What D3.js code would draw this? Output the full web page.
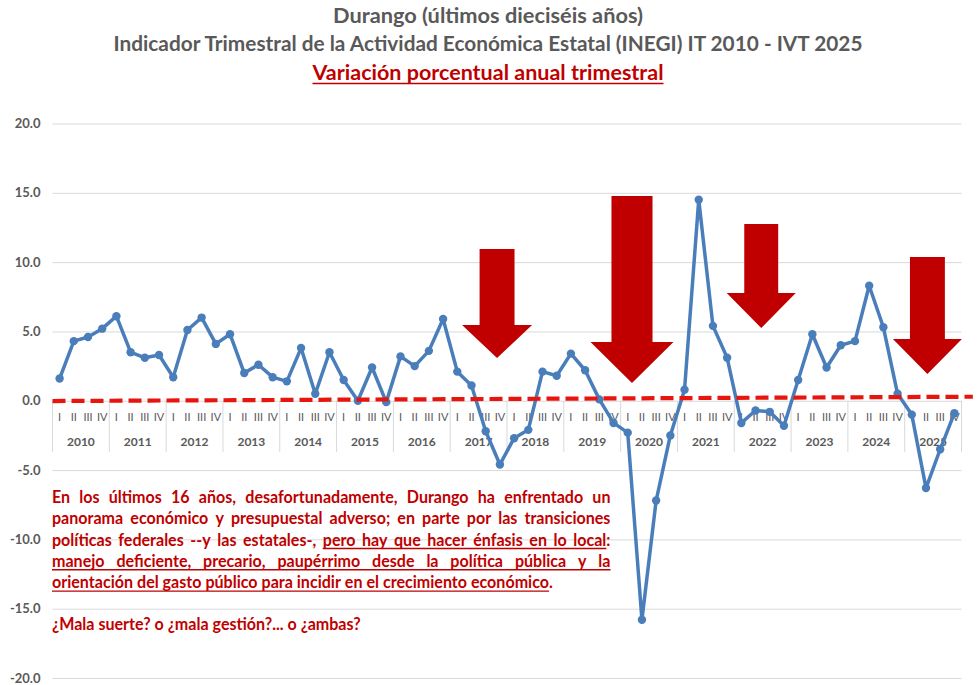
<!DOCTYPE html>
<html><head><meta charset="utf-8">
<script src="https://cdn.jsdelivr.net/npm/d3@7/dist/d3.min.js"></script>
<style>body{margin:0;background:#fff;} svg{display:block;}</style>
</head><body>
<svg id="chart" width="979" height="685"></svg>
<script>
// ---------------- data ----------------
const years = [2010,2011,2012,2013,2014,2015,2016,2017,2018,2019,2020,2021,2022,2023,2024,2025];
const quarters = ["I","II","III","IV"];
const values = [
  1.6, 4.3, 4.6, 5.2,    // 2010
  6.1, 3.5, 3.1, 3.3,    // 2011
  1.7, 5.1, 6.0, 4.1,    // 2012
  4.8, 2.0, 2.6, 1.7,    // 2013
  1.4, 3.8, 0.5, 3.5,    // 2014
  1.5, 0.0, 2.4, -0.1,   // 2015
  3.2, 2.5, 3.6, 5.9,    // 2016
  2.1, 1.1, -2.2, -4.6,  // 2017
  -2.7, -2.1, 2.1, 1.8,  // 2018
  3.4, 2.2, 0.1, -1.6,   // 2019
  -2.3, -15.8, -7.2, -2.5, // 2020
  0.8, 14.5, 5.4, 3.1,   // 2021
  -1.6, -0.7, -0.8, -1.8, // 2022
  1.5, 4.8, 2.4, 4.0,    // 2023
  4.3, 8.3, 5.3, 0.5,    // 2024
  -1.0, -6.3, -3.5, -0.9 // 2025
];
const yTicks = [20, 15, 10, 5, 0, -5, -10, -15, -20];
const refLineValues = [-0.02, 0.29];     // dashed red reference line (start, end)
const refLineQuarters = [0, 64.8];       // its extent in quarter units
// arrows: center (quarter units), top / neck / tip values, shaft & head widths (quarter units)
const arrowCenters = [31.3, 40.8, 49.9, 61.6];
const arrowTops    = [10.95, 14.77, 12.75, 10.37];
const arrowNecks   = [5.46, 4.24, 7.77, 4.45];
const arrowTips    = [3.08, 1.28, 5.25, 1.93];
const arrowShafts  = [2.46, 2.89, 2.39, 2.46];
const arrowHeads   = [4.93, 5.84, 4.86, 4.86];

const titleLines = [
  "Durango (últimos dieciséis años)",
  "Indicador Trimestral de la Actividad Económica Estatal (INEGI) IT 2010 - IVT 2025",
  "Variación porcentual anual trimestral"
];
const noteLines = [
  [["En los últimos 16 años, desafortunadamente, Durango ha enfrentado un", false]],
  [["panorama económico y presupuestal adverso; en parte por las transiciones", false]],
  [["políticas federales --y las estatales-, ", false], ["pero hay que hacer énfasis en lo local", true], [":", false]],
  [["manejo deficiente, precario, paupérrimo desde la política pública y la", true]],
  [["orientación del gasto público para incidir en el crecimiento económico", true], [".", false]],
  [["¿Mala suerte? o ¿mala gestión?... o ¿ambas?", false]]
];
const noteJustify = [true, true, true, true, false, false];

// ---------------- layout ----------------
const svg = d3.select("#chart");
const pL = 52.5, pR = 961.5, pT = 123.5, pB = 678;
const gray = "#595959", red = "#c00000", blue = "#4a7ebb";
const font = "Lato, 'Open Sans', sans-serif";

const idx = d3.range(values.length);
const x = d3.scaleBand().domain(idx).range([pL, pR]);
const xq = d3.scaleLinear().domain([0, values.length]).range([pL, pR]);
const y = d3.scaleLinear().domain([-20, 20]).range([pB, pT]);
const fmt = d3.formatLocale({decimal: ".", thousands: ",", grouping: [3], currency: ["$", ""], minus: "-"}).format(".1f");

// gridlines + y labels
const yAxis = svg.append("g").attr("transform", `translate(${pL},0)`)
  .call(d3.axisLeft(y).tickValues(yTicks).tickFormat(fmt).tickSize(-(pR - pL)).tickPadding(12));
yAxis.select(".domain").remove();
yAxis.selectAll(".tick line").attr("stroke", "#d9d9d9").attr("stroke-width", 1);
yAxis.selectAll(".tick text").attr("fill", gray).attr("font-family", font)
  .attr("font-weight", 700).attr("font-size", 13);

// category axis: quarter labels, year labels, separators
const cat = svg.append("g");
cat.selectAll("text.q").data(idx).join("text").attr("class", "q")
  .attr("x", i => x(i) + x.bandwidth() / 2).attr("y", 418)
  .attr("text-anchor", "middle").attr("dominant-baseline", "middle")
  .attr("font-family", font).attr("font-size", 11).attr("fill", gray)
  .text(i => quarters[i % 4]);
cat.selectAll("text.yr").data(years).join("text").attr("class", "yr")
  .attr("x", (d, j) => xq(j * 4 + 2)).attr("y", 443)
  .attr("text-anchor", "middle").attr("dominant-baseline", "middle")
  .attr("font-family", font).attr("font-weight", 700).attr("font-size", 12).attr("fill", gray)
  .text(d => d);
cat.selectAll("line.sep").data(d3.range(years.length + 1)).join("line").attr("class", "sep")
  .attr("x1", j => xq(j * 4)).attr("x2", j => xq(j * 4))
  .attr("y1", y(0)).attr("y2", 452)
  .attr("stroke", "#d9d9d9").attr("stroke-width", 1);

// arrows
svg.append("g").selectAll("path").data(arrowCenters).join("path")
  .attr("fill", red)
  .attr("d", (c, i) => {
    const s = arrowShafts[i] / 2, h = arrowHeads[i] / 2;
    const pts = [[c - s, arrowTops[i]], [c + s, arrowTops[i]], [c + s, arrowNecks[i]], [c + h, arrowNecks[i]],
                 [c, arrowTips[i]], [c - h, arrowNecks[i]], [c - s, arrowNecks[i]]];
    return "M" + pts.map(p => [xq(p[0]), y(p[1])].join(",")).join("L") + "Z";
  });

// series line + markers
const line = d3.line().x((d, i) => x(i) + x.bandwidth() / 2).y(d => y(d));
svg.append("path").datum(values).attr("d", line)
  .attr("fill", "none").attr("stroke", blue).attr("stroke-width", 3.5).attr("stroke-linejoin", "round");
svg.append("g").selectAll("circle").data(values).join("circle")
  .attr("cx", (d, i) => x(i) + x.bandwidth() / 2).attr("cy", d => y(d)).attr("r", 4.2).attr("fill", blue);

// dashed red reference line
svg.append("line")
  .attr("x1", xq(refLineQuarters[0])).attr("x2", xq(refLineQuarters[1]))
  .attr("y1", y(refLineValues[0])).attr("y2", y(refLineValues[1]))
  .attr("stroke", "#e8150f").attr("stroke-width", 4.2).attr("stroke-dasharray", "13,6");

// titles
const titleSizes = [20, 20, 20];
const titleWidths = [310, 749, 351];
const titleBase = [23, 51, 80];
titleLines.forEach((t, i) => {
  svg.append("text").attr("x", 488).attr("y", titleBase[i]).attr("text-anchor", "middle")
    .attr("font-family", font).attr("font-weight", 700).attr("font-size", titleSizes[i])
    .attr("fill", i === 2 ? red : gray)
    .attr("textLength", titleWidths[i]).attr("lengthAdjust", "spacingAndGlyphs")
    .text(t);
});
svg.append("line").attr("x1", 488 - titleWidths[2] / 2).attr("x2", 488 + titleWidths[2] / 2)
  .attr("y1", titleBase[2] + 3.5).attr("y2", titleBase[2] + 3.5)
  .attr("stroke", red).attr("stroke-width", 1.6);

// note paragraph
const noteLeft = 52, noteWidth = 558.5, noteSize = 17;
const noteBase = [503, 524.3, 545.7, 567, 588.3, 629.5];
const meas = svg.append("text").attr("font-family", font).attr("font-weight", 700)
  .attr("font-size", noteSize).attr("x", -1000).attr("y", -1000)
  .style("white-space", "pre");
const measure = s => { meas.text(s); return meas.node().getComputedTextLength(); };
const spaceW = measure("a a") - measure("aa");
const sx = 500.5 / measure(noteLines[4].map(p => p[0]).join(""));
const note = svg.append("g");

function layoutNote(pieces, yb, justify) {
  const chars = [];
  pieces.forEach(([t, u]) => { for (const c of t) chars.push({c, u}); });
  const words = []; let cur = null;
  chars.forEach(ch => {
    if (ch.c === " ") {
      if (cur) { words.push(cur); cur = null; }
      if (words.length) words[words.length - 1].spaceUL = ch.u;
    } else {
      if (!cur) cur = {runs: [], spaceUL: false};
      const r = cur.runs[cur.runs.length - 1];
      if (r && r.u === ch.u) r.t += ch.c; else cur.runs.push({t: ch.c, u: ch.u});
    }
  });
  if (cur) words.push(cur);
  words.forEach(w => { w.runs.forEach(r => r.w = measure(r.t) * sx); w.w = d3.sum(w.runs, r => r.w); });
  const total = d3.sum(words, w => w.w);
  const gap = justify ? (noteWidth - total) / (words.length - 1) : spaceW * sx;
  let xx = noteLeft; const segs = [];
  words.forEach((w, i) => {
    w.runs.forEach((r, k) => {
      note.append("text").attr("transform", `translate(${xx},${yb}) scale(${sx},1)`)
        .attr("font-family", font).attr("font-weight", 700).attr("font-size", noteSize)
        .attr("fill", red).text(r.t);
      segs.push({x0: xx, x1: xx + r.w, u: r.u, last: k === w.runs.length - 1, spaceUL: w.spaceUL});
      xx += r.w;
    });
    xx += gap;
  });
  let start = null;
  segs.forEach((s, i) => {
    if (!s.u) return;
    if (start === null) start = s.x0;
    const nxt = segs[i + 1];
    const cont = nxt && nxt.u && (!s.last || s.spaceUL);
    if (!cont) {
      note.append("line").attr("x1", start).attr("x2", s.x1)
        .attr("y1", yb + 2.8).attr("y2", yb + 2.8).attr("stroke", red).attr("stroke-width", 1.4);
      start = null;
    }
  });
}
noteLines.forEach((p, i) => layoutNote(p, noteBase[i], noteJustify[i]));
meas.remove();
</script>
</body></html>
